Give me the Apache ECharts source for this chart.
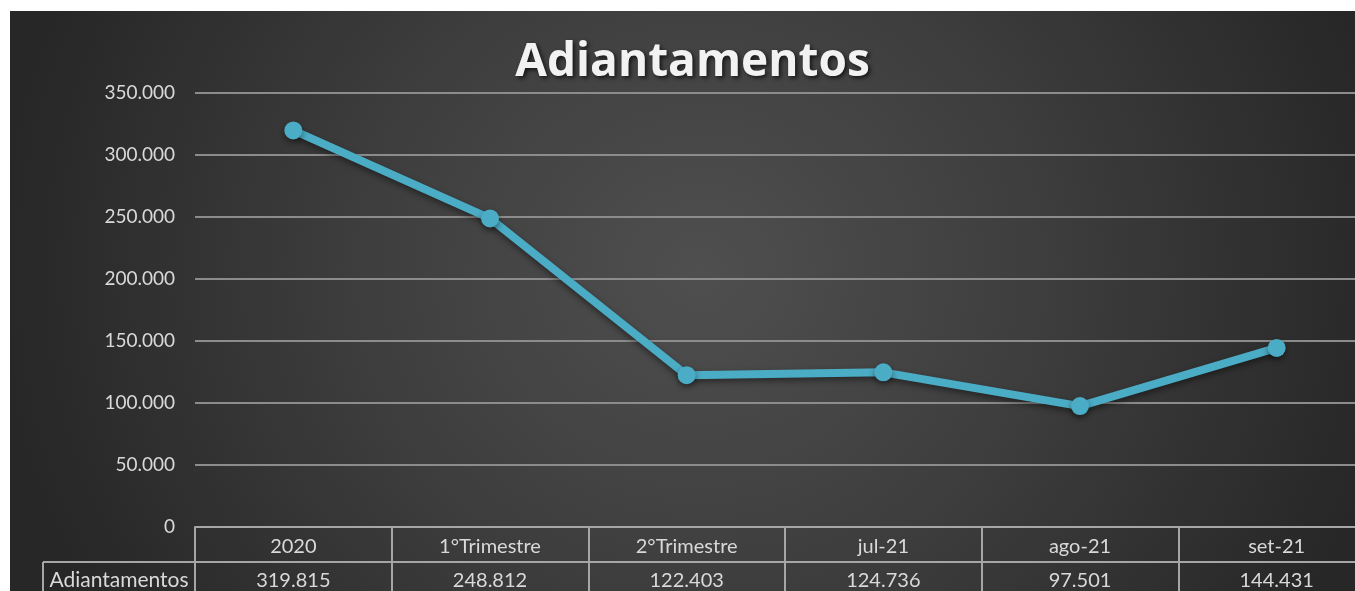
<!DOCTYPE html>
<html>
<head>
<meta charset="utf-8">
<script src="https://cdn.jsdelivr.net/npm/echarts@6/dist/echarts.min.js"></script>
<style>
  html, body { margin: 0; padding: 0; background: #fff; overflow: hidden; width: 1355px; height: 591px; }
  #chart {
    position: absolute; left: 10px; top: 11px; width: 1365px; height: 600px;
    background: radial-gradient(ellipse 700px 650px at 690px 260px, #4f4f4f 0%, #3f3f3f 45%, #272727 100%);
  }
</style>
</head>
<body>
<div id="chart"></div>
<script>
// dados do gráfico
const categorias = ["2020", "1°Trimestre", "2°Trimestre", "jul-21", "ago-21", "set-21"];
const adiantamentos = [319815, 248812, 122403, 124736, 97501, 144431];
const nomeSerie = "Adiantamentos";
const yMax = 350000;
const yStep = 50000;

// 319815 -> "319.815"
function fmt(v) {
  return String(v).replace(/\B(?=(\d{3})+(?!\d))/g, ".");
}

const labelColor = "#d9d9d9";
const tableLine = "#a6a6a6";
const font = "Lato, 'Open Sans', sans-serif";

const myChart = echarts.init(document.getElementById("chart"));
myChart.setOption({
  backgroundColor: "transparent",
  title: {
    text: nomeSerie,
    left: "center",
    top: 24,
    textStyle: {
      color: "#f2f2f2",
      fontSize: 46,
      fontWeight: "bold",
      fontFamily: "'Open Sans', Lato, sans-serif",
      textShadowColor: "rgba(0,0,0,0.7)",
      textShadowBlur: 4,
      textShadowOffsetX: 2,
      textShadowOffsetY: 2,
    },
  },
  grid: { left: 185, right: -5, top: 82, bottom: 84 },
  xAxis: [
    {
      type: "category",
      data: categorias,
      boundaryGap: true,
      axisLine: { show: true, lineStyle: { color: tableLine, width: 2 } },
      axisTick: {
        show: true,
        interval: 0,
        length: 80,
        lineStyle: { color: tableLine, width: 2 },
      },
      axisLabel: {
        interval: 0,
        margin: 3,
        //linha 1 = categoria, linha 2 = valor
        formatter: function (val, idx) {
          return "{c|" + val + "}\n{v|" + fmt(adiantamentos[idx]) + "}";
        },
        rich: {
          c: { color: labelColor, fontSize: 20, fontFamily: font, lineHeight: 34 },
          v: { color: labelColor, fontSize: 20, fontFamily: font, lineHeight: 34 },
        },
      },
    },
    {
      // linha horizontal entre as duas linhas da tabela
      type: "category",
      data: categorias,
      position: "bottom",
      offset: 35,
      axisLine: { show: true, lineStyle: { color: tableLine, width: 2 } },
      axisTick: { show: false },
      axisLabel: { show: false },
    },
  ],
  yAxis: {
    type: "value",
    min: 0,
    max: yMax,
    interval: yStep,
    axisLine: { show: false },
    axisTick: { show: false },
    axisLabel: {
      color: labelColor,
      fontSize: 19,
      fontFamily: font,
      margin: 20,
      formatter: fmt,
    },
    splitLine: { lineStyle: { color: "#8c8c8c", width: 2 } },
  },
  graphic: [
    {
      type: "line",
      shape: { x1: 33, y1: 551, x2: 185, y2: 551 },
      style: { stroke: tableLine, lineWidth: 2 },
    },
    {
      type: "line",
      shape: { x1: 33, y1: 551, x2: 33, y2: 600 },
      style: { stroke: tableLine, lineWidth: 2 },
    },
    {
      type: "text",
      x: 109,
      y: 569,
      style: {
        text: nomeSerie,
        fill: labelColor,
        fontSize: 21,
        fontFamily: font,
        align: "center",
        verticalAlign: "middle",
      },
    },
  ],
  series: [
    {
      name: nomeSerie,
      type: "line",
      data: adiantamentos,
      xAxisIndex: 0,
      symbol: "circle",
      symbolSize: 18,
      lineStyle: {
        color: "#4bacc6",
        width: 8,
        shadowColor: "rgba(0,0,0,0.45)",
        shadowBlur: 6,
        shadowOffsetY: 3,
      },
      itemStyle: {
        color: "#4bacc6",
        shadowColor: "rgba(0,0,0,0.45)",
        shadowBlur: 6,
        shadowOffsetY: 3,
      },
      label: { show: false },
    },
  ],
});
</script>
</body>
</html>
